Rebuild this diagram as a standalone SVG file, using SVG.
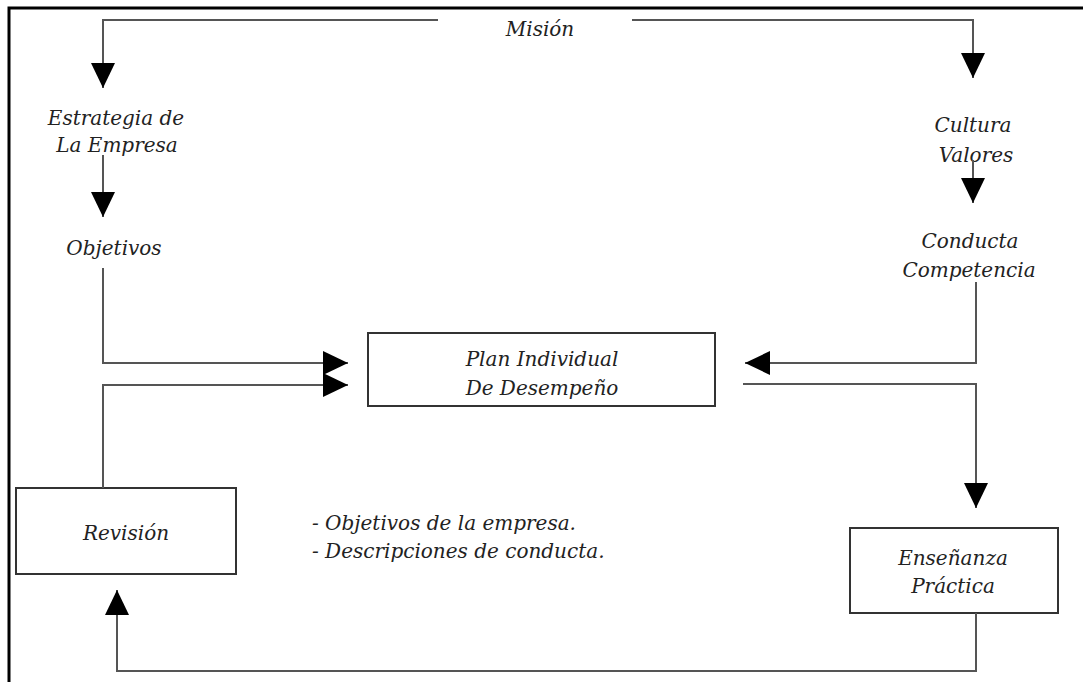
<svg xmlns="http://www.w3.org/2000/svg" width="1083" height="682" viewBox="0 0 1083 682">
<style>
.t{font-family:"DejaVu Serif","Liberation Serif",serif;font-style:italic;font-size:20px;fill:#222;}
.c{text-anchor:middle;}
.box{fill:#fff;stroke:#333;stroke-width:2;}
.ln{fill:none;stroke:#555;stroke-width:2;marker-end:url(#ah);}
</style>
<defs>
<marker id="ah" markerUnits="userSpaceOnUse" markerWidth="26" markerHeight="24" refX="25" refY="12" orient="auto" viewBox="0 0 26 24">
<path d="M0,0 L25,12 L0,24 z" fill="#000"/>
</marker>
</defs>
<rect x="0" y="0" width="1083" height="682" fill="#fff"/>
<path d="M9,682 V8 H1083" fill="none" stroke="#000" stroke-width="3"/>

<g id="mision"><text class="t c" x="540" y="36">Misión</text></g>
<g id="estrategia"><text class="t c" x="116" y="125">Estrategia de</text><text class="t c" x="117" y="152">La Empresa</text></g>
<g id="objetivos"><text class="t c" x="114" y="255">Objetivos</text></g>
<g id="cultura"><text class="t c" x="973" y="132">Cultura</text><text class="t c" x="976" y="162">Valores</text></g>
<g id="conducta"><text class="t c" x="970" y="248">Conducta</text><text class="t c" x="969" y="277">Competencia</text></g>
<g id="plan"><rect class="box" x="368" y="333" width="347" height="73"/><text class="t c" x="542" y="366">Plan Individual</text><text class="t c" x="542" y="395">De Desempeño</text></g>
<g id="revision"><rect class="box" x="16" y="488" width="220" height="86"/><text class="t c" x="126" y="540">Revisión</text></g>
<g id="ensenanza"><rect class="box" x="850" y="528" width="208" height="85"/><text class="t c" x="953" y="565">Enseñanza</text><text class="t c" x="953" y="593">Práctica</text></g>
<g id="notas"><text class="t" x="312" y="530">- Objetivos de la empresa.</text><text class="t" x="312" y="558">- Descripciones de conducta.</text></g>

<g id="connectors">
<path class="ln" d="M438,20 H103 V88"/>
<path class="ln" d="M632,20 H973 V78"/>
<path class="ln" d="M103,155 V217"/>
<path class="ln" d="M973,160 V203"/>
<path class="ln" d="M103,268 V363 H348"/>
<path class="ln" d="M103,488 V385 H348"/>
<path class="ln" d="M976,282 V363 H745"/>
<path class="ln" d="M743,384 H976 V508"/>
<path class="ln" d="M976,613 V671 H117 V590"/>
</g>
</svg>
